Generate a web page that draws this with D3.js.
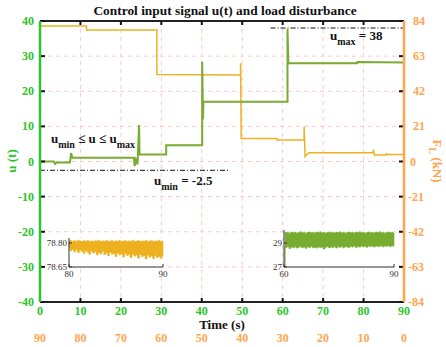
<!DOCTYPE html>
<html>
<head>
<meta charset="utf-8">
<script src="https://cdn.jsdelivr.net/npm/d3@7"></script>
<style>
  html, body { margin: 0; padding: 0; background: #fff; }
  svg { display: block; }
  svg text { font-family: "Liberation Serif", "DejaVu Serif", "Times New Roman", serif; }
</style>
</head>
<body>
<svg id="chart" width="446" height="347" font-family="Liberation Serif, DejaVu Serif, serif"></svg>
<script>
// ---- data ----
// control input u(t): time (s) and value
const uTime  = [0, 3.4, 3.7, 4.1, 7.4, 7.7, 8.0, 23.2, 23.4, 23.7, 24.1, 24.5, 24.6, 31.2, 31.2, 40.1, 40.1, 40.3, 40.4, 61.2, 61.2, 61.4, 78.4, 78.5, 90];
const uValue = [0, 0, -0.7, -0.3, -0.3, 2.4, 1.1, 1.1, -1.3, 0.5, -0.8, 10.4, 2.0, 2.0, 4.6, 4.6, 28.4, 12.0, 17.0, 17.0, 37.7, 28.0, 28.0, 28.3, 28.2];

// load disturbance F_L (kN) against the reversed time axis
const loadTime  = [90, 78.5, 78.5, 61.1, 61.1, 40.4, 40.4, 40.25, 31.4, 31.4, 24.7, 24.7, 24.45, 24.1, 23.5, 7.7, 7.6, 7.3, 4.5, 4.4, 4.2, 0];
const loadValue = [81.0, 81.0, 78.6, 78.6, 52.0, 51.7, 58.7, 13.8, 13.8, 12.8, 12.8, 20.8, 3.0, 4.0, 5.3, 5.3, 6.9, 3.9, 3.9, 4.6, 4.2, 4.2];

// axis ticks
const uTicks    = [-40, -30, -20, -10, 0, 10, 20, 30, 40];
const loadTicks = [-84, -63, -42, -21, 0, 21, 42, 63, 84];
const timeTicks = [0, 10, 20, 30, 40, 50, 60, 70, 80, 90];

// zoomed view of F_L near its upper level (80-90 s)
const zoomLoadTime = d3.range(51).map(i => 80 + i * 0.2);
const zoomLoadHigh = [78.812,78.815,78.810,78.814,78.811,78.816,78.812,78.809,78.814,78.811,78.815,78.810,78.813,78.809,78.814,78.812,78.816,78.810,78.813,78.811,78.815,78.809,78.812,78.814,78.810,78.813,78.811,78.815,78.809,78.812,78.814,78.810,78.813,78.811,78.815,78.810,78.812,78.814,78.809,78.813,78.811,78.815,78.810,78.812,78.814,78.809,78.813,78.811,78.815,78.810,78.812];
const zoomLoadLow  = [78.770,78.752,78.760,78.745,78.758,78.740,78.755,78.748,78.735,78.752,78.742,78.730,78.750,78.738,78.745,78.725,78.740,78.732,78.748,78.728,78.738,78.720,78.742,78.730,78.735,78.715,78.738,78.726,78.732,78.712,78.735,78.722,78.728,78.708,78.730,78.718,78.725,78.705,78.728,78.715,78.722,78.700,78.725,78.712,78.718,78.702,78.722,78.710,78.715,78.705,78.720];

// zoomed view of u(t) after the last step (60-90 s)
const zoomUTime = [60.3, 60.3, 60.5].concat(d3.range(61).map(i => 60.6 + i * 0.49));
const zoomUHigh = [27.0, 29.9, 29.9].concat([29.85,29.9,29.8,29.92,29.86,29.9,29.82,29.88,29.93,29.85,29.9,29.8,29.89,29.92,29.86,29.9,29.84,29.91,29.87,29.93,29.85,29.9,29.82,29.88,29.92,29.86,29.9,29.84,29.91,29.87,29.93,29.85,29.9,29.82,29.88,29.92,29.86,29.9,29.84,29.91,29.87,29.93,29.85,29.9,29.82,29.88,29.92,29.86,29.9,29.84,29.91,29.87,29.93,29.85,29.9,29.82,29.88,29.92,29.86,29.9,29.84]);
const zoomULow  = [27.0, 28.7, 28.6].concat([28.62,28.7,28.55,28.66,28.6,28.68,28.58,28.64,28.7,28.6,28.66,28.56,28.68,28.62,28.7,28.6,28.64,28.58,28.68,28.62,28.66,28.5,28.64,28.7,28.6,28.66,28.62,28.7,28.58,28.68,28.64,28.72,28.6,28.7,28.66,28.62,28.72,28.66,28.74,28.62,28.7,28.66,28.74,28.68,28.72,28.64,28.76,28.7,28.74,28.66,28.76,28.72,28.7,28.78,28.68,28.76,28.72,28.78,28.7,28.76,28.74]);

// ---- layout ----
const svg = d3.select("#chart");
const L = 40, R = 404, T = 21, B = 302;
const green = "#2dc52d", orange = "#ffa54f";
const uColor = "#77ac30", loadColor = "#edb120";

const x = d3.scaleLinear().domain([0, 90]).range([L, R]);
const xLoad = d3.scaleLinear().domain([90, 0]).range([L, R]);
const y = d3.scaleLinear().domain([-40, 40]).range([B, T]);
const yLoad = d3.scaleLinear().domain([-84, 84]).range([B, T]);

// grid
const grid = svg.append("g").attr("stroke", "#ffc8c8").attr("stroke-width", 1).attr("stroke-dasharray", "4,4");
timeTicks.slice(1, -1).forEach(t => grid.append("line").attr("x1", x(t)).attr("x2", x(t)).attr("y1", T).attr("y2", B));
uTicks.slice(1, -1).forEach(v => grid.append("line").attr("x1", L).attr("x2", R).attr("y1", y(v)).attr("y2", y(v)));

// curves
const line = d3.line();
svg.append("path")
  .attr("d", line(loadTime.map((t, i) => [xLoad(t), yLoad(loadValue[i])])))
  .attr("fill", "none").attr("stroke", loadColor).attr("stroke-width", 1.5);
svg.append("path")
  .attr("d", line(uTime.map((t, i) => [x(t), y(uValue[i])])))
  .attr("fill", "none").attr("stroke", uColor).attr("stroke-width", 2);

// limit lines
svg.append("line").attr("x1", x(57)).attr("x2", R).attr("y1", y(38)).attr("y2", y(38))
  .attr("stroke", "#111").attr("stroke-width", 1).attr("stroke-dasharray", "5,2,1,2");
svg.append("line").attr("x1", L).attr("x2", x(47)).attr("y1", y(-2.5)).attr("y2", y(-2.5))
  .attr("stroke", "#111").attr("stroke-width", 1).attr("stroke-dasharray", "5,2,1,2");

// annotations with subscripts
function subText(xPos, yPos, parts) {
  const t = svg.append("text").attr("x", xPos).attr("y", yPos)
    .attr("font-size", 13).attr("font-weight", "bold").attr("fill", "#111");
  parts.forEach(p => {
    const s = t.append("tspan").text(p.s);
    if (p.sub) s.attr("dy", 5).attr("font-size", 10);
    else if (p.back) s.attr("dy", -5);
  });
}
subText(330, 40, [{s: "u"}, {s: "max", sub: true}, {s: " = 38", back: true}]);
subText(154, 185, [{s: "u"}, {s: "min", sub: true}, {s: " = -2.5", back: true}]);
subText(51, 143, [{s: "u"}, {s: "min", sub: true}, {s: " ≤ u ≤ u", back: true}, {s: "max", sub: true}]);

// axes frame
svg.append("line").attr("x1", L).attr("x2", R).attr("y1", T).attr("y2", T).attr("stroke", "#222").attr("stroke-width", 2);
svg.append("line").attr("x1", L).attr("x2", R).attr("y1", B).attr("y2", B).attr("stroke", "#222").attr("stroke-width", 2);

const ticks = svg.append("g").attr("stroke", "#111").attr("stroke-width", 2);
timeTicks.forEach(t => {
  ticks.append("line").attr("x1", x(t)).attr("x2", x(t)).attr("y1", T).attr("y2", T + 4);
  ticks.append("line").attr("x1", x(t)).attr("x2", x(t)).attr("y1", B).attr("y2", B - 4);
});
uTicks.forEach(v => ticks.append("line").attr("x1", L).attr("x2", L + 5).attr("y1", y(v)).attr("y2", y(v)));
loadTicks.forEach(v => ticks.append("line").attr("x1", R).attr("x2", R - 5).attr("y1", yLoad(v)).attr("y2", yLoad(v)));

svg.append("line").attr("x1", L).attr("x2", L).attr("y1", T).attr("y2", B).attr("stroke", green).attr("stroke-width", 2.5);
svg.append("line").attr("x1", R).attr("x2", R).attr("y1", T).attr("y2", B).attr("stroke", orange).attr("stroke-width", 2.5);

// tick labels
const lab = svg.append("g").attr("font-size", 12).attr("font-weight", "bold");
uTicks.forEach(v => lab.append("text").attr("x", L - 6).attr("y", y(v) + 4).attr("text-anchor", "end").attr("fill", green).text(v));
loadTicks.forEach(v => lab.append("text").attr("x", R + (v > 0 ? 9 : v === 0 ? 6 : 4)).attr("y", yLoad(v) + 4)
  .attr("text-anchor", "start").attr("fill", orange).text(v));
timeTicks.forEach(t => lab.append("text").attr("x", x(t)).attr("y", 315).attr("text-anchor", "middle").attr("fill", green).text(t));
timeTicks.forEach(t => lab.append("text").attr("x", xLoad(t)).attr("y", 342).attr("text-anchor", "middle").attr("fill", orange).text(t));

// titles
svg.append("text").attr("x", 225).attr("y", 15).attr("text-anchor", "middle").attr("font-size", 13.4)
  .attr("font-weight", "bold").attr("fill", "#111").text("Control input signal u(t) and load disturbance");
svg.append("text").attr("x", 222).attr("y", 329).attr("text-anchor", "middle").attr("font-size", 13)
  .attr("font-weight", "bold").attr("fill", "#111").text("Time (s)");
svg.append("text").attr("transform", "translate(16,161) rotate(-90)").attr("text-anchor", "middle")
  .attr("font-size", 13).attr("font-weight", "bold").attr("fill", green).text("u (t)");
const fl = svg.append("text").attr("transform", "translate(433,161) rotate(90)").attr("text-anchor", "middle")
  .attr("font-size", 13).attr("font-weight", "bold").attr("fill", orange);
fl.append("tspan").text("F");
fl.append("tspan").attr("dy", 4).attr("font-size", 10).text("L");
fl.append("tspan").attr("dy", -4).text(" (kN)");

// ---- insets ----
function inset(box, xDom, yDom, xt, yt, yFmt, times, hi, lo, color) {
  const ix = d3.scaleLinear().domain(xDom).range([box.x0, box.x1]);
  const iy = d3.scaleLinear().domain(yDom).range([box.y1, box.y0]);
  const g = svg.append("g");
  g.append("rect").attr("x", box.x0).attr("y", box.top).attr("width", box.x1 - box.x0).attr("height", box.y1 - box.top).attr("fill", "#fff");
  const area = d3.area().x((d, i) => ix(times[i])).y0((d, i) => iy(lo[i])).y1((d, i) => iy(hi[i])).curve(d3.curveStep);
  g.append("path").attr("d", area(times)).attr("fill", color).attr("stroke", color).attr("stroke-width", 0.6);
  const ax = g.append("g").attr("stroke", "#333").attr("stroke-width", 1);
  ax.append("line").attr("x1", box.x0).attr("x2", box.x1).attr("y1", box.y1).attr("y2", box.y1);
  ax.append("line").attr("x1", box.x0).attr("x2", box.x0).attr("y1", box.y1).attr("y2", box.top);
  yt.forEach(v => ax.append("line").attr("x1", box.x0).attr("x2", box.x0 + 3).attr("y1", iy(v)).attr("y2", iy(v)));
  xt.forEach(v => ax.append("line").attr("x1", ix(v)).attr("x2", ix(v)).attr("y1", box.y1).attr("y2", box.y1 - 3));
  const tl = g.append("g").attr("font-size", 9).attr("fill", "#333");
  yt.forEach(v => tl.append("text").attr("x", box.x0 - 2).attr("y", iy(v) + 3).attr("text-anchor", "end").text(yFmt(v)));
  xt.forEach(v => tl.append("text").attr("x", ix(v)).attr("y", box.y1 + 10).attr("text-anchor", "middle").text(v));
}
inset({x0: 69, x1: 163, y0: 243, y1: 267, top: 238}, [80, 90], [78.65, 78.80], [80, 90], [78.65, 78.80],
  d3.format(".2f"), zoomLoadTime, zoomLoadHigh, zoomLoadLow, loadColor);
inset({x0: 284, x1: 394, y0: 243, y1: 267, top: 230}, [60, 90], [27, 29], [60, 90], [27, 29],
  d3.format("d"), zoomUTime, zoomUHigh, zoomULow, uColor);
</script>
</body>
</html>
